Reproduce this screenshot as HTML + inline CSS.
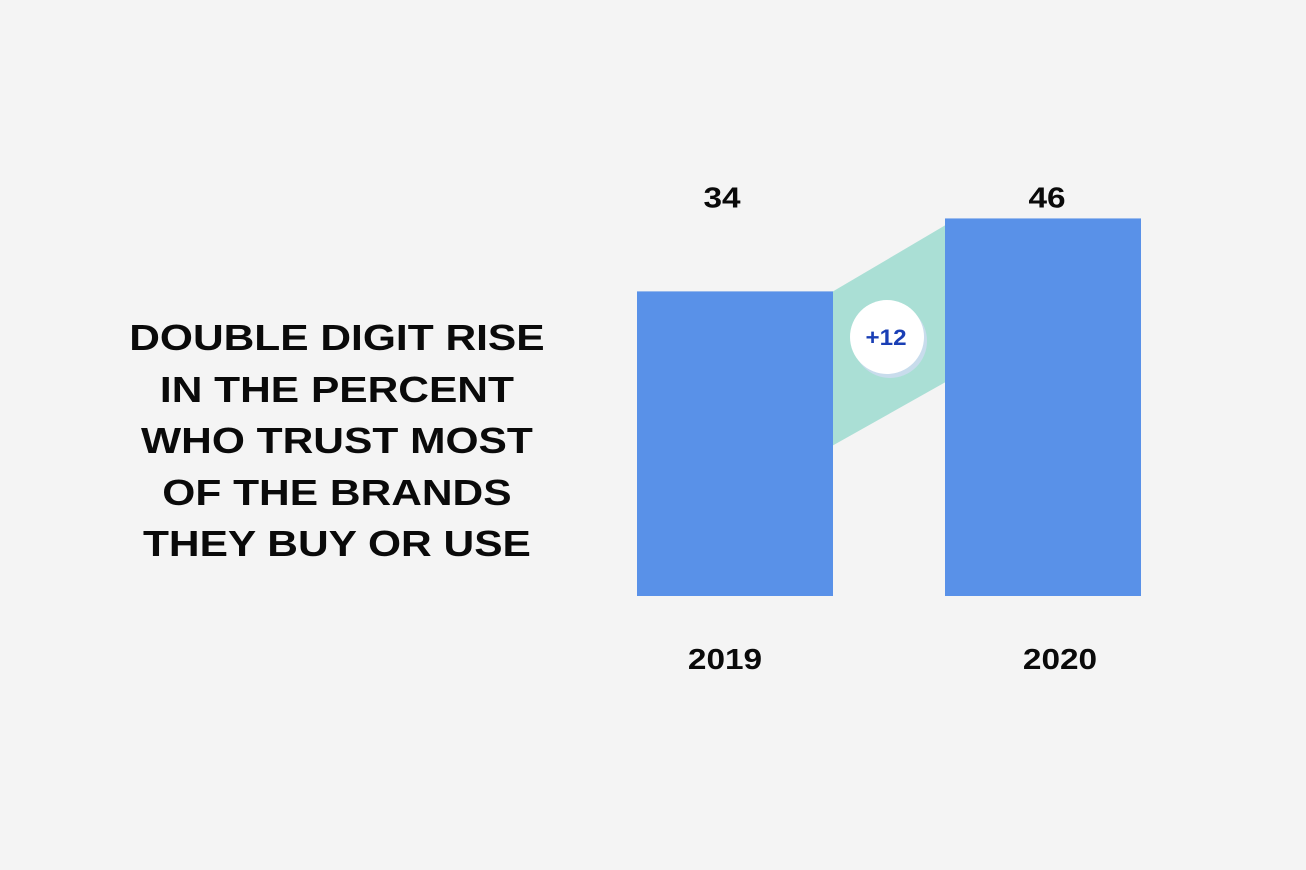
<!DOCTYPE html>
<html><head><meta charset="utf-8"><style>
body{margin:0;width:1306px;height:870px;background:#f4f4f4;font-family:"Liberation Sans",Arial,sans-serif;overflow:hidden}
#title{position:absolute;left:106px;width:500px;top:312px;text-align:center;font-weight:bold;font-size:36px;line-height:51.5px;color:#0a0a0a;transform:scaleX(1.18);transform-origin:356px 0}
svg{position:absolute;left:0;top:0}
</style></head><body>
<div id="title">DOUBLE DIGIT RISE<br>IN THE PERCENT<br>WHO TRUST MOST<br>OF THE BRANDS<br>THEY BUY OR USE</div>
<svg id="chart" width="1306" height="870"></svg>
<script>
const categories=["2019","2020"];
const values=[34,46];
const changeLabel="+12";
const NS="http://www.w3.org/2000/svg";
const svg=document.getElementById('chart');
const base=596;
function y(v){return base-(v+16.1)*6.08;}
const xs=[637,945], bw=196;
const valueCx=[722,1047], yearCx=[725,1060];
function mk(t,a){const e=document.createElementNS(NS,t);for(const k in a)e.setAttribute(k,a[k]);svg.appendChild(e);return e;}
const y0=y(values[0]), y1=y(values[1]);
const conn=mk('polygon',{points:`${xs[0]+bw},${y0} ${xs[1]},${y1+7} ${xs[1]},${y1+164} ${xs[0]+bw},${y0+154}`,fill:'#aadfd5'});


const topY=y(Math.max(...values));
categories.forEach((c,i)=>{
  const r=mk('rect',{x:xs[i],y:y(values[i]),width:bw,height:base-y(values[i]),fill:'#5991e8'});
  
  
  const t=mk('text',{x:0,y:0,'text-anchor':'middle','font-size':'29','font-weight':'bold',fill:'#0a0a0a',transform:`translate(${valueCx[i]},${topY-11}) scale(1.15,1)`});
  t.textContent=values[i];
  
  
  const l=mk('text',{x:0,y:0,'text-anchor':'middle','font-size':'29','font-weight':'bold',fill:'#0a0a0a',transform:`translate(${yearCx[i]},${669}) scale(1.15,1)`});
  l.textContent=c;
  
  
});
const sh=mk('circle',{cx:890,cy:341,r:37,fill:'#c8dcec'});


const c=mk('circle',{cx:887,cy:337,r:37,fill:'#ffffff'});


const bt=mk('text',{x:0,y:0,'text-anchor':'middle','font-size':'22','font-weight':'bold',fill:'#1a3fb5',transform:'translate(886,345) scale(1.1,1)'});
bt.textContent=changeLabel;


</script>
</body></html>
